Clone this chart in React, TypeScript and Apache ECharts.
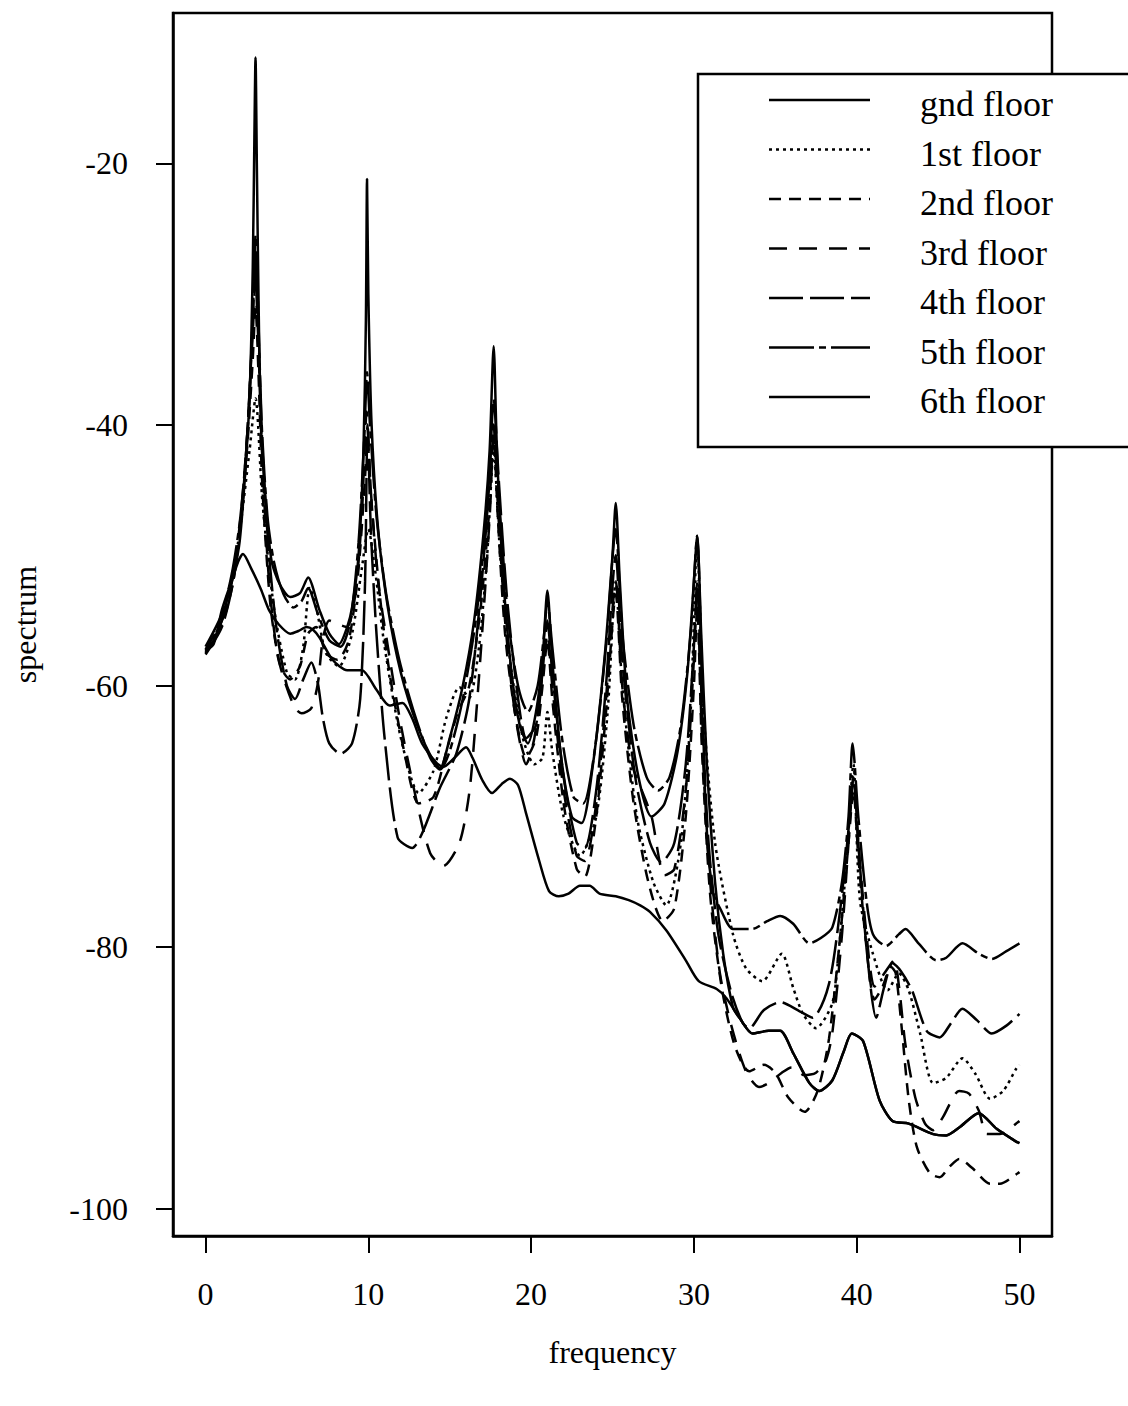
import React, { useEffect, useRef } from 'react';
import * as echarts from 'echarts';

const floorNames = ['gnd floor', '1st floor', '2nd floor', '3rd floor', '4th floor', '5th floor', '6th floor'];
const xTicks = [0, 10, 20, 30, 40, 50];
const yTicks = [-100, -80, -60, -40, -20];

const gndFloor: [number, number][] = [
  [0, -57.5], [0.5, -56.5], [1, -55], [1.5, -52.5], [2, -50.5], [2.3, -49.9], [2.8, -51], [3.4, -52.6], [3.9, -54.2],
  [4.5, -55.3], [5.2, -56], [5.7, -55.8], [6.2, -55.5], [6.6, -55.7], [7, -56.3], [7.8, -58], [8.7, -58.8], [9.6, -58.8],
  [10.5, -60.3], [11.3, -61.5], [12.1, -61.3], [12.7, -62.5], [13.3, -64.4], [14.2, -65.9], [14.6, -66.2], [15.3, -65.5],
  [16, -64.7], [16.4, -65.5], [17, -67.2], [17.6, -68.2], [18.2, -67.5], [18.7, -67.1], [19.2, -67.6], [19.7, -69.8],
  [20.5, -73.4], [21.1, -75.7], [21.7, -76.1], [22.3, -75.9], [23, -75.3], [23.6, -75.3], [24.2, -75.9], [25.2, -76.1],
  [26, -76.4], [26.7, -76.8], [27.3, -77.3], [28.3, -78.7], [29.5, -81], [30.3, -82.6], [31.4, -83.2], [32, -83.9],
  [32.8, -85.4], [33.6, -86.6], [34.6, -86.4], [35.3, -86.4], [36.1, -88.1], [37.1, -90.4], [37.7, -91], [38.5, -90.2],
  [39.2, -88], [39.7, -86.6], [40.4, -87.2], [41.4, -91.7], [42.2, -93.3], [43.2, -93.5], [44.7, -94.3], [45.5, -94.4],
  [46.3, -93.8], [47.5, -92.7], [48.6, -93.9], [49.7, -94.8], [50, -95],
];

const firstFloor: [number, number][] = [
  [0, -57.3], [1, -55], [2, -49], [2.7, -42], [3.07, -38], [3.5, -46], [4.2, -54], [5, -59], [5.5, -59.5], [6, -57],
  [6.4, -52.5], [6.8, -54], [7.4, -57.5], [8.2, -58.5], [9, -56], [9.6, -51], [10, -48], [10.4, -51], [11, -57], [12, -64],
  [13.1, -68.2], [14, -66.5], [14.8, -62.4], [15.6, -60.1], [16.2, -60.9], [16.8, -57], [17.3, -50], [17.7, -42],
  [18.1, -50], [18.7, -58], [19.5, -64], [20.2, -66], [20.7, -65.5], [21, -62], [21.3, -65], [22, -70], [23, -73],
  [24, -70], [24.7, -62], [25.2, -52], [25.6, -60], [26.5, -70], [27.5, -75], [28.3, -76.8], [29.2, -72], [29.8, -62],
  [30.2, -49], [30.6, -62], [31.3, -72], [32.4, -79], [33.2, -81.6], [34.2, -82.6], [35.4, -80.5], [36.1, -83.1],
  [36.7, -85.1], [37.5, -86.2], [38.5, -84.3], [38.9, -80.3], [39.4, -73], [39.8, -66], [40.2, -76.4], [41, -80.5],
  [41.9, -83.3], [42.6, -82], [43.2, -83.3], [43.9, -86.6], [44.7, -90.4], [45.5, -90], [46.5, -88.5], [47.3, -89.7],
  [48.2, -91.6], [49, -91], [49.8, -89.3], [50, -89],
];

const secondFloor: [number, number][] = [
  [0, -57.4], [1, -55.3], [1.7, -52], [2.2, -47], [2.6, -41], [2.9, -35], [3.07, -31], [3.25, -36], [3.5, -45], [4, -54],
  [4.6, -58.5], [5.2, -59.5], [5.8, -58.5], [6.3, -56], [6.8, -55.5], [7.4, -57.5], [8.1, -58], [8.8, -56.5], [9.4, -51],
  [9.8, -44], [9.95, -41], [10.2, -46], [10.7, -53], [11.3, -59], [12.2, -65], [13.1, -69], [14, -68.5], [14.8, -65],
  [15.5, -62], [16.2, -60], [16.9, -54], [17.4, -47], [17.7, -41], [17.95, -47], [18.4, -56], [19, -62], [19.7, -65.5],
  [20.3, -64], [20.7, -60], [21, -56.5], [21.3, -61], [22, -69], [22.8, -74], [23.3, -74.6], [24, -70], [24.6, -62],
  [25.2, -53], [25.6, -61], [26.3, -69], [27.2, -75], [28.1, -78], [28.8, -77], [29.5, -70], [30, -60], [30.2, -54],
  [30.5, -65], [31, -76], [31.7, -83], [32.5, -87.5], [33.4, -89.5], [34.3, -89], [35, -89.6], [35.8, -91.5],
  [36.8, -92.6], [37.6, -91], [38.3, -87], [39, -79], [39.5, -72], [39.8, -68], [40.1, -73], [40.6, -80], [41.1, -84],
  [41.6, -83], [42.1, -81.5], [42.4, -82], [42.8, -86.6], [43.2, -91.7], [43.7, -95.3], [44.5, -97.3], [45.1, -97.6],
  [45.7, -96.8], [46.3, -96.2], [47.1, -96.9], [48.2, -98.1], [48.8, -98.1], [49.9, -97.3], [50, -97.2],
];

const thirdFloor: [number, number][] = [
  [0, -57.2], [1, -55], [1.7, -51.5], [2.2, -46.5], [2.6, -40], [2.9, -33], [3.07, -29], [3.25, -34], [3.5, -43],
  [3.9, -52], [4.4, -57.5], [4.9, -59.8], [5.5, -61.7], [5.9, -62.1], [6.5, -61.7], [6.9, -59.8], [7.2, -56.5],
  [7.6, -55], [8.2, -55.3], [8.7, -55.5], [9.2, -53], [9.6, -47], [9.9, -39], [10.15, -45], [10.6, -52], [11.2, -57],
  [12, -63], [13, -69], [13.8, -72.8], [14.6, -73.8], [15.6, -72], [16.2, -68.2], [16.6, -62.6], [17.1, -54],
  [17.5, -46], [17.7, -40], [17.95, -46], [18.4, -55], [19, -62], [19.7, -66], [20.2, -64], [20.7, -59], [21, -56],
  [21.3, -60], [22, -68], [22.8, -73], [23.3, -73.4], [24, -69], [24.6, -61], [25.2, -52], [25.6, -60], [26.2, -66],
  [26.8, -68], [27.4, -70], [28.2, -74.5], [28.8, -74], [29.5, -68], [30, -58], [30.2, -53], [30.5, -64], [31, -75],
  [31.6, -82], [32.3, -86], [33.2, -89.5], [34, -90.7], [34.6, -90.4], [35.4, -89.6], [36, -89.2], [36.8, -89.8],
  [37.5, -89.6], [38.1, -88.7], [38.5, -86.6], [39.1, -79], [39.5, -72], [39.8, -67], [40.1, -72], [40.6, -79],
  [41.1, -83], [41.7, -82], [42.3, -81], [42.6, -83], [43, -87.5], [43.6, -91.5], [44.2, -93.5], [44.7, -94],
  [45.3, -93], [46.3, -91], [46.9, -91.2], [47.5, -92.5], [48, -94.3], [48.8, -94.3], [49.9, -93.4], [50, -93.3],
];

const fourthFloor: [number, number][] = [
  [0, -57.6], [1, -55.5], [1.7, -52], [2.2, -47], [2.6, -40], [2.9, -32], [3.07, -27.5], [3.25, -33], [3.5, -42],
  [3.9, -50], [4.4, -56], [5, -60], [5.5, -61], [6, -59.5], [6.5, -58.2], [6.9, -59.8], [7.2, -62.4], [7.6, -64.4],
  [8.3, -65.2], [9, -64.4], [9.5, -61], [9.8, -52], [9.95, -40], [10.15, -48], [10.5, -56], [11, -64], [11.8, -71.6],
  [12.7, -72.4], [13.3, -71.3], [14.4, -67.8], [15.4, -65.2], [16.2, -61], [16.9, -53], [17.4, -45], [17.7, -38],
  [18, -44], [18.5, -53], [19.1, -60], [19.7, -64], [20.3, -63], [20.7, -59], [21, -55], [21.3, -59], [22, -67],
  [22.8, -72], [23.3, -72.4], [24, -68], [24.6, -60], [25.2, -50], [25.6, -58], [26.4, -67], [27.3, -72], [28, -73.5],
  [28.8, -72], [29.5, -66], [30, -57], [30.2, -52], [30.5, -62], [30.9, -72], [31.5, -79], [32.3, -83.5], [33, -85.8],
  [33.4, -86.2], [34.3, -84.8], [35.3, -84.2], [36.5, -84.9], [37.3, -85.4], [38.3, -82.8], [39, -77], [39.5, -71],
  [39.8, -67], [40.1, -72], [40.6, -80], [41.2, -85.4], [41.7, -83], [42.2, -81.2], [42.7, -81.8], [43.4, -83.3],
  [44.3, -86.4], [45.1, -86.9], [45.8, -85.8], [46.5, -84.7], [47.4, -85.6], [48.3, -86.6], [49.2, -86], [50, -85.1],
];

const fifthFloor: [number, number][] = [
  [0, -57], [1, -54.5], [1.6, -51.5], [2.1, -47.5], [2.5, -42], [2.8, -35], [3, -28], [3.07, -25.5], [3.2, -30],
  [3.45, -40], [3.8, -47], [4.2, -50.5], [4.8, -53], [5.4, -54], [5.9, -53.5], [6.3, -52.5], [6.9, -54.5], [7.6, -56.5],
  [8.3, -57], [8.9, -55], [9.4, -49], [9.75, -41], [9.92, -36], [10.1, -40], [10.5, -47], [11.1, -53], [11.9, -58],
  [12.8, -62], [13.8, -65.5], [14.4, -66.4], [15, -65], [15.8, -61], [16.6, -55], [17.2, -48], [17.7, -40], [18.1, -47],
  [18.6, -55], [19.2, -60], [19.8, -62], [20.4, -60], [20.8, -56], [21, -53.5], [21.3, -57], [21.9, -64], [22.6, -68.5],
  [23.2, -69], [23.9, -65], [24.6, -57], [25.2, -48], [25.6, -56], [26.3, -63], [27.1, -67], [27.8, -68], [28.5, -67],
  [29.2, -63], [29.8, -56], [30.2, -48.5], [30.5, -60], [30.8, -71.8], [31.2, -75.9], [31.6, -77], [32.4, -78.6],
  [33.6, -78.6], [34.5, -78], [35.3, -77.6], [36.1, -78.2], [37.1, -79.7], [37.8, -79.3], [38.5, -78.5], [39.1, -75],
  [39.5, -70], [39.75, -64.4], [40.1, -70], [40.6, -76.4], [41, -79], [41.8, -79.9], [42.6, -79], [43, -78.6],
  [43.8, -79.7], [44.9, -81], [45.5, -80.8], [46.5, -79.7], [47.5, -80.5], [48.3, -80.9], [49.2, -80.3], [50, -79.7],
];

const sixthFloor: [number, number][] = [
  [0, -57.3], [0.5, -56.8], [1, -54.2], [1.5, -52.3], [1.8, -51], [2.1, -48.9], [2.4, -44.3], [2.7, -38], [2.9, -28],
  [3, -18], [3.07, -11.9], [3.15, -20], [3.25, -30], [3.4, -40], [3.7, -46], [4.05, -50.4], [4.55, -52.2], [5.2, -53.2],
  [5.8, -52.9], [6.3, -51.7], [7, -54.2], [7.6, -56], [8.2, -56.8], [8.7, -55.5], [9, -54], [9.4, -50], [9.7, -42],
  [9.85, -32], [9.92, -21.2], [10, -30], [10.2, -40], [10.6, -48], [11.2, -54], [12, -59], [13, -63], [14, -65.8],
  [14.4, -66.3], [15, -64], [15.8, -60], [16.5, -55], [17.1, -48], [17.45, -42], [17.7, -34], [17.9, -42], [18.3, -52],
  [18.8, -59], [19.3, -63], [19.8, -64.4], [20.3, -62], [20.7, -58], [21, -52.7], [21.3, -58], [21.8, -65], [22.5, -70],
  [23.1, -70.5], [23.8, -66], [24.5, -58], [25, -50], [25.2, -46], [25.45, -52], [25.9, -61], [26.6, -67], [27.4, -70],
  [28.2, -69], [29, -65], [29.6, -59], [30, -52], [30.2, -48.5], [30.45, -56], [30.8, -66], [31.3, -75], [31.8, -80.5],
  [32.4, -84.6], [32.8, -85.4], [33.6, -86.6], [34.6, -86.4], [35.3, -86.4], [36.1, -88.1], [37.1, -90.4], [37.7, -91],
  [38.5, -90.2], [39.2, -88], [39.7, -86.6], [40.4, -87.2], [41.4, -91.7], [42.2, -93.3], [43.2, -93.5], [44.7, -94.3],
  [45.5, -94.4], [46.3, -93.8], [47.5, -92.7], [48.6, -93.9], [49.7, -94.8], [50, -95],
];

const floorData = [gndFloor, firstFloor, secondFloor, thirdFloor, fourthFloor, fifthFloor, sixthFloor];
const floorDash: (number[] | 'solid')[] = ['solid', [3, 4], [12, 8], [18, 12], [34, 7], [45, 5, 7, 5], 'solid'];

const FONT = '"Liberation Serif", "Times New Roman", serif';

export default function App() {
  const ref = useRef<HTMLDivElement>(null);
  useEffect(() => {
    document.body.style.margin = '0';
    const chart = echarts.init(ref.current!, null, { renderer: 'svg' });

    const legendTop = 74;
    const rowY0 = 100;
    const rowStep = 49.5;
    const graphic: any[] = [
      {
        type: 'rect',
        shape: { x: 698, y: legendTop, width: 440, height: 373 },
        style: { fill: '#fff', stroke: '#000', lineWidth: 2.5 },
        z: 100,
      },
    ];
    floorNames.forEach((name, i) => {
      const y = rowY0 + rowStep * i;
      const dash = floorDash[i];
      graphic.push({
        type: 'line',
        shape: { x1: 769, y1: y, x2: 870, y2: y },
        style: { stroke: '#000', lineWidth: 2.5, lineDash: dash === 'solid' ? null : dash },
        z: 101,
      });
      graphic.push({
        type: 'text',
        x: 920,
        y: y + 4,
        style: { text: name, fontSize: 36, fontFamily: FONT, fill: '#000', align: 'left', verticalAlign: 'middle' },
        z: 101,
      });
    });

    chart.setOption({
      animation: false,
      backgroundColor: '#fff',
      grid: { left: 173, right: 76, top: 13, bottom: 170, show: true, borderColor: '#000', borderWidth: 2.5, backgroundColor: 'transparent' },
      xAxis: {
        type: 'value',
        min: -2,
        max: 52,
        axisLine: { show: true, onZero: false, lineStyle: { color: '#000', width: 2.5 } },
        axisTick: { show: true, inside: false, length: 17, customValues: xTicks, lineStyle: { color: '#000', width: 2 } },
        axisLabel: { customValues: xTicks, margin: 42, fontSize: 32, fontFamily: FONT, color: '#000' },
        splitLine: { show: false },
        name: 'frequency',
        nameLocation: 'middle',
        nameGap: 100,
        nameTextStyle: { fontSize: 32, fontFamily: FONT, color: '#000' },
      },
      yAxis: {
        type: 'value',
        min: -102.1,
        max: -8.5,
        axisLine: { show: true, onZero: false, lineStyle: { color: '#000', width: 2.5 } },
        axisTick: { show: true, inside: false, length: 17, customValues: yTicks, lineStyle: { color: '#000', width: 2 } },
        axisLabel: { customValues: yTicks, margin: 45, fontSize: 32, fontFamily: FONT, color: '#000' },
        splitLine: { show: false },
        name: 'spectrum',
        nameLocation: 'middle',
        nameGap: 132,
        nameRotate: 90,
        nameTextStyle: { fontSize: 32, fontFamily: FONT, color: '#000' },
      },
      series: floorNames.map((name, i) => ({
        name,
        type: 'line',
        data: floorData[i],
        showSymbol: false,
        symbol: 'none',
        smooth: 0.25,
        lineStyle: { color: '#000', width: 2.5, type: floorDash[i] },
        z: 2,
      })),
      graphic,
    });
    return () => chart.dispose();
  }, []);
  return <div ref={ref} style={{ width: 1128, height: 1406 }} />;
}
